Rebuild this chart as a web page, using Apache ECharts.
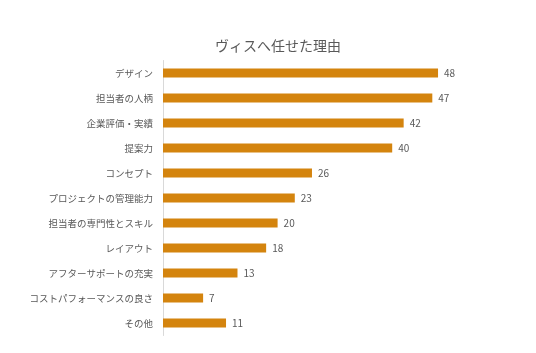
<!DOCTYPE html>
<html>
<head>
<meta charset="utf-8">
<script src="https://cdn.jsdelivr.net/npm/echarts@6/dist/echarts.min.js"></script>
<style>
  html, body { margin: 0; padding: 0; background: #fff; }
  #main { width: 536px; height: 353px; }
</style>
</head>
<body>
<div id="main"></div>
<script>
  // 理由（上から順）
  const categories = ['デザイン', '担当者の人柄', '企業評価・実績', '提案力', 'コンセプト',
    'プロジェクトの管理能力', '担当者の専門性とスキル', 'レイアウト', 'アフターサポートの充実',
    'コストパフォーマンスの良さ', 'その他'];
  const counts = [48, 47, 42, 40, 26, 23, 20, 18, 13, 7, 11];

  let myChart = echarts.init(document.getElementById('main'));
  let option = {
    title: {
      text: 'ヴィスへ任せた理由',
      left: 210,
      top: 34,
      textStyle: {
        fontFamily: 'Noto Sans CJK JP',
        fontSize: 14,
        fontWeight: 'normal',
        color: '#595959'
      }
    },
    grid: {
      left: 163,
      top: 60.5,
      height: 275,
      right: 86.5
    },
    xAxis: {
      type: 'value',
      min: 0,
      max: 50,
      show: false
    },
    yAxis: {
      type: 'category',
      inverse: true,
      data: categories,
      axisLine: { show: true, lineStyle: { color: '#d9d9d9' } },
      axisTick: { show: false },
      axisLabel: {
        fontFamily: 'Noto Sans CJK JP',
        fontSize: 9.5,
        color: '#595959',
        margin: 10
      }
    },
    series: [{
      type: 'bar',
      data: counts,
      barWidth: 9,
      itemStyle: { color: '#d4840e' },
      label: {
        show: true,
        position: 'right',
        distance: 6,
        fontFamily: 'Noto Sans CJK JP',
        fontSize: 10,
        color: '#595959'
      },
      animation: false
    }]
  };
  myChart.setOption(option);
</script>
</body>
</html>
